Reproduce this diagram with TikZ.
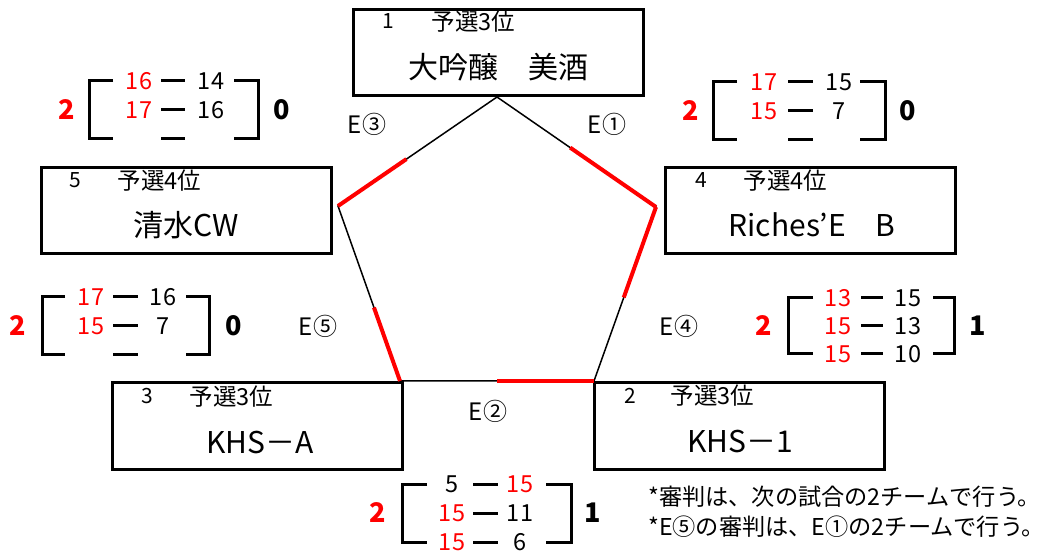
\documentclass[tikz,border=0pt]{standalone}
\usepackage{fontspec}
\setmainfont{Noto Sans CJK JP}
\usetikzlibrary{calc,positioning}

\tikzset{
  teambox/.style={draw,line width=3pt,minimum width=290pt,minimum height=86pt,inner sep=0pt},
  seedtxt/.style={inner sep=0pt,font=\fontsize{21}{24}\selectfont},
  ranktxt/.style={inner sep=0pt,anchor=west,font=\fontsize{23.5}{26}\selectfont},
  nametxt/.style={inner sep=0pt,font=\fontsize{30}{34}\selectfont},
  pentline/.style={line width=1.5pt},
  winline/.style={red,line width=4pt},
  bracket/.style={line width=3pt},
  ptxt/.style={inner sep=0pt,font=\fontsize{23.5}{26}\selectfont},
  wintotal/.style={inner sep=0pt,red,font=\fontsize{27}{28}\selectfont\bfseries},
  losetotal/.style={inner sep=0pt,font=\fontsize{27}{28}\selectfont\bfseries},
  gamelbl/.style={inner sep=0pt,font=\fontsize{24}{26}\selectfont},
  notetxt/.style={inner sep=0pt,anchor=west,font=\fontsize{23.2}{30}\selectfont}
}

\begin{document}
\begin{tikzpicture}[x=1pt,y=-1pt]
\useasboundingbox (0,0) rectangle (1050,553);

% team boxes
\node[teambox] (t1) at (498,53) {};
\node[seedtxt] (t1s) at ([shift={(37,13)}]t1.north west) {1};
\node[ranktxt] (t1r) at ([shift={(80,13)}]t1.north west) {予選3位};
\node[nametxt] (t1n) at ([shift={(0,14)}]t1.center) {大吟醸　美酒};

\node[teambox] (t5) at (186,211) {};
\node[seedtxt] (t5s) at ([shift={(36,14)}]t5.north west) {5};
\node[ranktxt] (t5r) at ([shift={(78,14)}]t5.north west) {予選4位};
\node[nametxt] (t5n) at ([shift={(0,14)}]t5.center) {清水CW};

\node[teambox] (t4) at (810,211) {};
\node[seedtxt] (t4s) at ([shift={(38,14)}]t4.north west) {4};
\node[ranktxt] (t4r) at ([shift={(80,14)}]t4.north west) {予選4位};
\node[nametxt] (t4n) at ([shift={(2,14)}]t4.center) {Riches’E　B};

\node[teambox] (t3) at (257,426) {};
\node[seedtxt] (t3s) at ([shift={(37,15)}]t3.north west) {3};
\node[ranktxt] (t3r) at ([shift={(79,15)}]t3.north west) {予選3位};
\node[nametxt] (t3n) at ([shift={(3,17)}]t3.center) {KHS－A};

\node[teambox] (t2) at (739,426) {};
\node[seedtxt] (t2s) at ([shift={(38,14)}]t2.north west) {2};
\node[ranktxt] (t2r) at ([shift={(78,14)}]t2.north west) {予選3位};
\node[nametxt] (t2n) at ([shift={(1,16)}]t2.center) {KHS－1};

% pentagon
\coordinate (pA) at (497,97);
\coordinate (pB) at (656,207);
\coordinate (pC) at (594,381);
\coordinate (pD) at (400,381);
\coordinate (pE) at (338,206);
\draw[pentline] (pA) -- (pB) -- (pC) -- (pD) -- (pE) -- cycle;
\draw[winline] (pE) -- ($(pE)!0.43!(pA)$);
\draw[winline] (pB) -- ($(pB)!0.54!(pA)$);
\draw[winline] (pB) -- ($(pB)!0.52!(pC)$);
\draw[winline] (pC) -- ($(pC)!0.5!(pD)$);
\draw[winline] (pD) -- ($(pD)!0.42!(pE)$);

\node[gamelbl] (e1) at (607,124) {E①};
\node[gamelbl] (e2) at (488,411) {E②};
\node[gamelbl] (e3) at (367,124) {E③};
\node[gamelbl] (e4) at (679,326) {E④};
\node[gamelbl] (e5) at (318,326) {E⑤};

% scores E3
\begin{scope}[shift={(89,81)}]
\draw[bracket] (24,0) -| (0,58) -- (24,58);
\draw[bracket] (145,0) -| (169,58) -- (145,58);
\draw[bracket] (72,0) -- (96,0) (72,29) -- (96,29) (72,58) -- (96,58);
\node[ptxt,red] (g3a1) at (50,0) {16};
\node[ptxt] (g3b1) at (122,0) {14};
\node[ptxt,red] (g3a2) at (50,29) {17};
\node[ptxt] (g3b2) at (122,29) {16};
\node[wintotal] (g3w) at (-22,29) {2};
\node[losetotal] (g3l) at (193,29) {0};
\end{scope}

% scores E1
\begin{scope}[shift={(713,82)}]
\draw[bracket] (24,0) -| (0,58) -- (24,58);
\draw[bracket] (147,0) -| (172,58) -- (147,58);
\draw[bracket] (75,0) -- (100,0) (75,29) -- (100,29) (75,58) -- (100,58);
\node[ptxt,red] (g1a1) at (51,0) {17};
\node[ptxt] (g1b1) at (126,0) {15};
\node[ptxt,red] (g1a2) at (51,29) {15};
\node[ptxt] (g1b2) at (126,29) {7};
\node[wintotal] (g1w) at (-22,29) {2};
\node[losetotal] (g1l) at (195,29) {0};
\end{scope}

% scores E4
\begin{scope}[shift={(788,298)}]
\draw[bracket] (25,0) -| (0,56) -- (25,56);
\draw[bracket] (145,0) -| (166,56) -- (145,56);
\draw[bracket] (73,0) -- (95,0) (73,28) -- (95,28) (73,56) -- (95,56);
\node[ptxt,red] (g4a1) at (50,0) {13};
\node[ptxt] (g4b1) at (120,0) {15};
\node[ptxt,red] (g4a2) at (50,28) {15};
\node[ptxt] (g4b2) at (120,28) {13};
\node[ptxt,red] (g4a3) at (50,56) {15};
\node[ptxt] (g4b3) at (120,56) {10};
\node[wintotal] (g4w) at (-24,28) {2};
\node[losetotal] (g4l) at (190,28) {1};
\end{scope}

% scores E5
\begin{scope}[shift={(42,297)}]
\draw[bracket] (23,0) -| (0,58) -- (23,58);
\draw[bracket] (144,0) -| (167,58) -- (144,58);
\draw[bracket] (71,0) -- (96,0) (71,29) -- (96,29) (71,58) -- (96,58);
\node[ptxt,red] (g5a1) at (49,0) {17};
\node[ptxt] (g5b1) at (121,0) {16};
\node[ptxt,red] (g5a2) at (49,29) {15};
\node[ptxt] (g5b2) at (121,29) {7};
\node[wintotal] (g5w) at (-24,29) {2};
\node[losetotal] (g5l) at (192,29) {0};
\end{scope}

% scores E2
\begin{scope}[shift={(402,484)}]
\draw[bracket] (25,0) -| (0,58) -- (25,58);
\draw[bracket] (144,0) -| (169,58) -- (144,58);
\draw[bracket] (71,0) -- (96,0) (71,29) -- (96,29) (71,58) -- (96,58);
\node[ptxt] (g2a1) at (50,0) {5};
\node[ptxt,red] (g2b1) at (118,0) {15};
\node[ptxt,red] (g2a2) at (50,29) {15};
\node[ptxt] (g2b2) at (118,29) {11};
\node[ptxt,red] (g2a3) at (50,58) {15};
\node[ptxt] (g2b3) at (118,58) {6};
\node[wintotal] (g2w) at (-24,29) {2};
\node[losetotal] (g2l) at (191,29) {1};
\end{scope}

% notes
\node[notetxt] (note1) at (648,497) {*審判は、次の試合の2チームで行う。};
\node[notetxt] (note2) at (648,527) {*E⑤の審判は、E①の2チームで行う。};
\end{tikzpicture}
\end{document}
